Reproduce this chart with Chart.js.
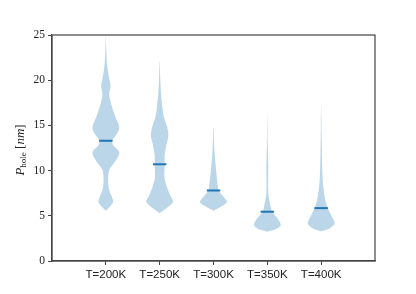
<!DOCTYPE html>
<html><head><meta charset="utf-8">
<script src="https://cdn.jsdelivr.net/npm/chart.js@4"></script>
<style>html,body{margin:0;padding:0;background:#fff}</style>
</head><body>
<canvas id="c" width="416" height="294"></canvas>
<script>
const categories = ['T=200K','T=250K','T=300K','T=350K','T=400K'];
const medians = [13.3, 10.7, 7.8, 5.45, 5.85];
const yTicks = [0, 5, 10, 15, 20, 25];

// density profiles: value levels and relative half-widths (max = 1)
const levels200 = [5.55, 6.0, 6.56, 7.1, 7.85, 8.96, 10.07, 11.0, 12.0, 12.8, 13.3, 13.9, 14.75, 16.0, 17.1, 18.4, 19.3, 20.4, 21.9, 23.5, 25.0];
const widths200 = [0, 0.30, 0.55, 0.45, 0.25, 0.17, 0.25, 0.69, 1.0, 0.55, 0.47, 0.75, 1.0, 0.69, 0.45, 0.25, 0.35, 0.22, 0.08, 0.03, 0];
const levels250 = [5.28, 5.83, 6.56, 7.2, 7.85, 8.6, 9.3, 10.7, 11.7, 12.8, 13.9, 14.85, 16.0, 18.2, 20.0, 22.2];
const widths250 = [0, 0.5, 1.0, 0.8, 0.62, 0.45, 0.35, 0.37, 0.37, 0.5, 0.65, 0.55, 0.3, 0.12, 0.05, 0];
const levels300 = [5.57, 6.0, 6.49, 7.1, 7.78, 8.6, 10.4, 12.3, 14.86];
const widths300 = [0, 0.55, 1.0, 0.75, 0.4, 0.3, 0.17, 0.07, 0];
const levels350 = [3.24, 3.5, 3.98, 4.72, 5.45, 6.0, 7.5, 10.4, 13.0, 16.3];
const widths350 = [0, 0.62, 1.0, 0.75, 0.35, 0.25, 0.07, 0.07, 0.03, 0];
const levels400 = [3.3, 3.6, 4.17, 4.9, 5.83, 6.75, 8.6, 10.5, 12.3, 15.0, 17.6];
const widths400 = [0, 0.62, 1.0, 0.8, 0.5, 0.3, 0.13, 0.07, 0.05, 0.02, 0];

const allLevels = [levels200, levels250, levels300, levels350, levels400];
const allWidths = [widths200, widths250, widths300, widths350, widths400];

const HALF = 0.25;       // violin half-width in category units
const MEDIAN_HALF = 0.125;

function outline(i) {
  const pos = i + 1, L = allLevels[i], W = allWidths[i], pts = [];
  for (let k = 0; k < L.length; k++) pts.push({x: pos + HALF * W[k], y: L[k]});
  for (let k = L.length - 2; k >= 0; k--) pts.push({x: pos - HALF * W[k], y: L[k]});
  return pts;
}

const datasets = [];
categories.forEach((c, i) => {
  datasets.push({
    data: [{x: i + 1 - MEDIAN_HALF, y: medians[i]}, {x: i + 1 + MEDIAN_HALF, y: medians[i]}],
    borderColor: '#1f77b4', borderWidth: 2, pointRadius: 0, fill: false, order: 0, tension: 0
  });
});
categories.forEach((c, i) => {
  datasets.push({
    data: outline(i),
    borderColor: 'rgba(0,0,0,0)', borderWidth: 0,
    backgroundColor: 'rgba(31,119,180,0.3)',
    fill: 'shape', pointRadius: 0, tension: 0.3, order: 1
  });
});

const framePlugin = {
  id: 'frame',
  afterDraw(chart) {
    const {ctx, chartArea: a} = chart;
    ctx.save();
    ctx.strokeStyle = '#444';
    ctx.lineWidth = 1.2;
    ctx.strokeRect(a.left, a.top, a.right - a.left, a.bottom - a.top);
    // y axis title
    ctx.translate(21, 150);
    ctx.rotate(-Math.PI / 2);
    ctx.fillStyle = '#222';
    ctx.textBaseline = 'middle';
    const parts = [
      {t: 'P', f: 'italic 13px "Liberation Serif", serif', dy: 0},
      {t: 'hole', f: '9px "Liberation Serif", serif', dy: 3},
      {t: ' [', f: '13px "Liberation Serif", serif', dy: 0},
      {t: 'nm', f: 'italic 13px "Liberation Serif", serif', dy: 0},
      {t: ']', f: '13px "Liberation Serif", serif', dy: 0}
    ];
    let total = 0;
    parts.forEach(p => { ctx.font = p.f; p.w = ctx.measureText(p.t).width; total += p.w; });
    let x = -total / 2;
    parts.forEach(p => { ctx.font = p.f; ctx.fillText(p.t, x, p.dy); x += p.w; });
    ctx.restore();
  }
};

new Chart(document.getElementById('c'), {
  type: 'line',
  data: {datasets},
  options: {
    responsive: false,
    animation: false,
    layout: {padding: {top: 35, right: 41, left: 0, bottom: 0}},
    plugins: {legend: {display: false}, tooltip: {enabled: false}},
    scales: {
      x: {
        type: 'linear', min: 0, max: 6,
        afterBuildTicks: s => { s.ticks = categories.map((c, i) => ({value: i + 1})); },
        afterFit: s => { s.height = 33; },
        ticks: {
          callback: v => categories[v - 1] || '',
          font: {family: '"Liberation Sans", Arial, sans-serif', size: 11.5},
          color: '#222', padding: 3, maxRotation: 0, autoSkip: false
        },
        grid: {drawOnChartArea: false, drawTicks: true, tickLength: 4, color: '#444', tickWidth: 1},
        border: {display: true, color: '#444', width: 1.2}
      },
      y: {
        type: 'linear', min: 0, max: 25,
        afterBuildTicks: s => { s.ticks = yTicks.map(v => ({value: v})); },
        afterFit: s => { s.width = 52; },
        ticks: {
          font: {family: '"Liberation Serif", serif', size: 11.5},
          color: '#222', padding: 3
        },
        grid: {drawOnChartArea: false, drawTicks: true, tickLength: 4, color: '#444', tickWidth: 1},
        border: {display: true, color: '#444', width: 1.2}
      }
    }
  },
  plugins: [framePlugin]
});
</script>
</body></html>
